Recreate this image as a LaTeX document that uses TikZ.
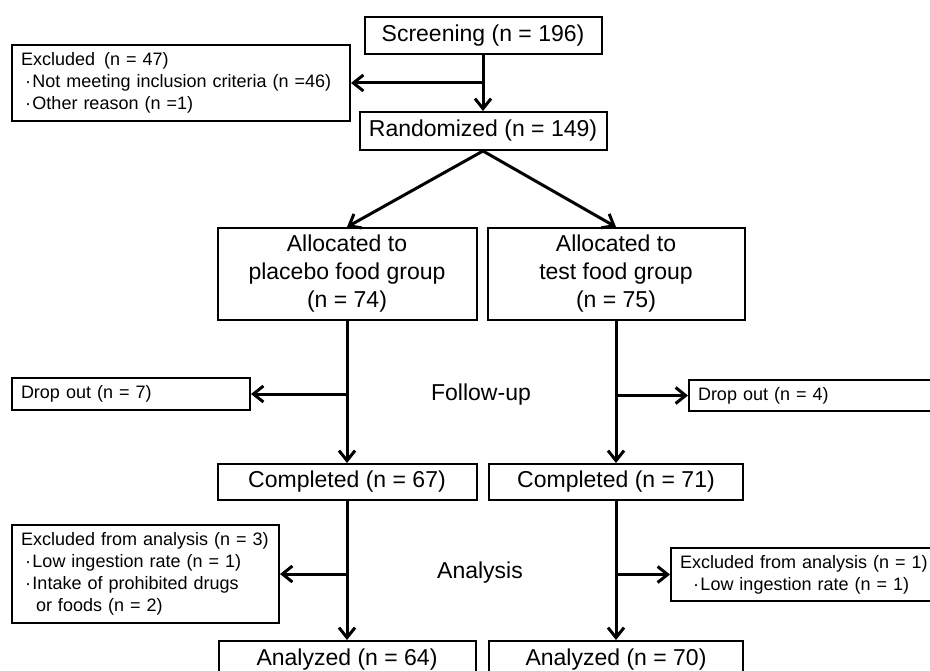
\documentclass[tikz,border=0pt]{standalone}
\usepackage{fontspec}
\setmainfont{Liberation Sans}
\usetikzlibrary{arrows.meta,positioning}
\newcommand\lx{347}
\newcommand\rx{616}
\newcommand\bul{\hspace*{4pt}·\hspace{1.5pt}}
\tikzset{mainbox/.style = {draw, line width=2pt, inner sep=0pt, align=center, font=\fontsize{23pt}{28pt}\selectfont}}
\tikzset{sidebox/.style = {draw, line width=2pt, inner xsep=9pt, inner ysep=0pt, align=left, font=\fontsize{18pt}{22pt}\selectfont}}
\tikzset{phase/.style = {font=\fontsize{23pt}{28pt}\selectfont}}
\tikzset{mypath/.style = {line width=3pt, -{Straight Barb[length=10pt,width=16pt]}}}

\begin{document}
\begin{tikzpicture}[x=1pt,y=-1pt]
\useasboundingbox (0,0) rectangle (930,671);
\clip (0,0) rectangle (930,671);

\node[mainbox, minimum width=237pt, minimum height=37pt] (screen) at (483,35.5) {Screening (n = 196)};
\node[mainbox, minimum width=247pt, minimum height=38pt] (rand) at (483,131) {Randomized (n = 149)};
\node[mainbox, minimum width=259pt, minimum height=92pt] (allocL) at (\lx,274) {Allocated to\\placebo food group\\(n = 74)};
\node[mainbox, minimum width=257pt, minimum height=92pt] (allocR) at (\rx,274) {Allocated to\\test food group\\(n = 75)};
\node[mainbox, minimum width=259pt, minimum height=36pt] (compL) at (\lx,482) {Completed (n = 67)};
\node[mainbox, minimum width=254pt, minimum height=36pt] (compR) at (\rx,482) {Completed (n = 71)};
\node[mainbox, minimum width=257pt, minimum height=38pt] (anaL) at (\lx,660) {Analyzed (n = 64)};
\node[mainbox, minimum width=254pt, minimum height=38pt] (anaR) at (\rx,660) {Analyzed (n = 70)};

\node[phase] (follow) at (481,395) {Follow-up};
\node[phase] (analysis) at (480,573) {Analysis};

\node[sidebox, minimum width=338pt, text width=320pt, minimum height=76pt] (exclScr) at (181,83)
	{Excluded \,(n = 47)\\\bul Not meeting inclusion criteria (n =46)\\\bul Other reason (n =1)};
\node[sidebox, minimum width=238pt, text width=220pt, minimum height=32pt] (dropL) at (131,394) {Drop out (n = 7)};
\node[sidebox, minimum width=271pt, text width=253pt, minimum height=31pt] (dropR) at (824.5,395.5) {Drop out (n = 4)};
\node[sidebox, minimum width=267pt, text width=249pt, minimum height=98pt] (exclAnaL) at (145.5,574)
	{Excluded from analysis (n = 3)\\\bul Low ingestion rate (n = 1)\\\bul Intake of prohibited drugs\\\hspace*{15pt}or foods (n = 2)};
\node[sidebox, minimum width=289pt, text width=271pt, minimum height=53pt] (exclAnaR) at (815.5,574.5)
	{Excluded from analysis (n = 1)\\\hspace*{9pt}\bul Low ingestion rate (n = 1)};

\foreach \a/\b in {screen/rand, allocL/compL, allocR/compR, compL/anaL, compR/anaR}{
	\path[mypath] (\a) edge (\b);
	}
\path[mypath] (rand.south) edge (allocL.north);
\path[mypath] (rand.south) edge (allocR.north);

\coordinate (brScr) at (screen.south |- exclScr.east);
\coordinate (brDropL) at (allocL.south |- dropL.east);
\coordinate (brDropR) at (allocR.south |- dropR.west);
\coordinate (brAnaL) at (compL.south |- exclAnaL.east);
\coordinate (brAnaR) at (compR.south |- exclAnaR.west);
\path[mypath] (brScr) edge (exclScr);
\path[mypath] (brDropL) edge (dropL);
\path[mypath] (brDropR) edge (dropR);
\path[mypath] (brAnaL) edge (exclAnaL);
\path[mypath] (brAnaR) edge (exclAnaR);
\end{tikzpicture}
\end{document}
